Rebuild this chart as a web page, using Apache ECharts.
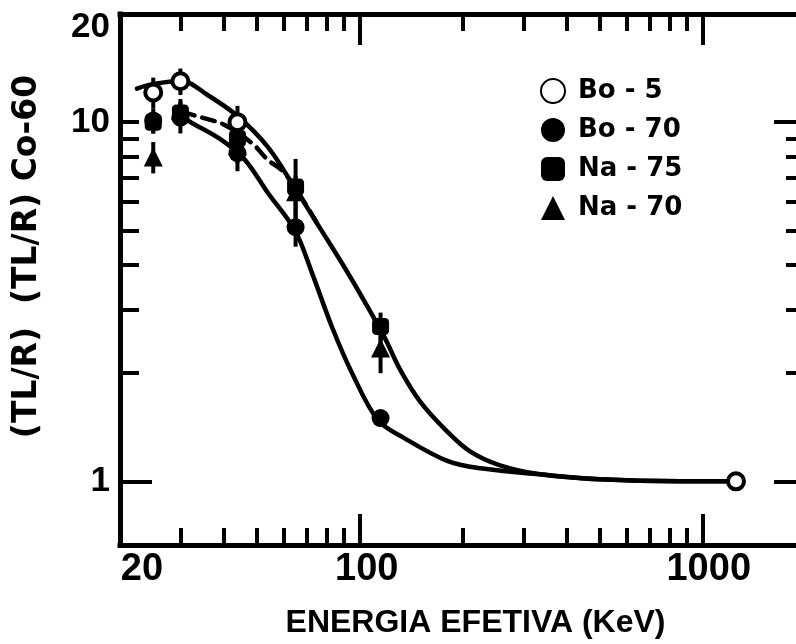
<!DOCTYPE html>
<html><head><meta charset="utf-8">
<script src="https://cdn.jsdelivr.net/npm/echarts@6/dist/echarts.min.js"></script>
<style>html,body{margin:0;padding:0;background:#fff}#c{width:796px;height:644px}</style>
</head><body><div id="c"></div>
<script>
// ---- axis ticks / labels ----
const xTickLabels = [20, 100, 1000];
const xMajorTicks = [100, 1000];
const xMinorTicks = [30, 40, 50, 60, 70, 80, 90, 200, 300, 400, 500, 600, 700, 800, 900];
const yTickLabels = [1, 10, 20];
const yMajorTicksLeft = [1];
const yMinorTicksLeft = [2, 3, 4, 5, 6, 7, 8, 9, 10];
const yMajorTicksRight = [1, 10];
const yMinorTicksRight = [2, 3, 4, 5, 6, 7, 8, 9];

// ---- measured points (energy keV, ratio) ----
const seriesNames = ['Bo-5', 'Bo-70', 'Na-75', 'Na-70'];
const bo5X = [25, 30, 44, 1250];
const bo5Y = [12.1, 13.0, 10.0, 1.0];
const bo5Err = [1.2, 1.1, 1.1, 0];
const bo70X = [25, 30, 44, 65, 115];
const bo70Y = [10.1, 10.3, 8.2, 5.1, 1.5];
const bo70Err = [0.8, 1.0, 0.9, 0.6, 0];
const na75X = [25, 30, 44, 65, 115];
const na75Y = [10.0, 10.6, 9.0, 6.6, 2.7];
const na75Err = [0.7, 0.8, 0.9, 1.3, 0.25];
const na70X = [25, 30, 44, 65, 115];
const na70Y = [8.0, 10.8, 8.6, 6.4, 2.35];
const na70Err = [0.8, 0.8, 0.9, 0.7, 0.35];

// ---- fitted curves ----
const upperX = [22.4, 25.3, 30.3, 36, 44, 54, 64.7, 76.6, 90.6, 103.6, 118.5, 131, 149.8, 179.6, 209.6, 256.4, 335, 500, 860, 1250];
const upperY = [12.4, 12.8, 13.0, 11.9, 10.4, 8.52, 6.55, 5.07, 3.92, 3.15, 2.50, 2.05, 1.67, 1.378, 1.212, 1.108, 1.046, 1.013, 1.0, 1.0];
const lowerX = [30.3, 32.4, 39.7, 46.3, 54, 64.7, 72.6, 83, 95, 113, 133, 180, 225, 335, 500, 860, 1250];
const lowerY = [10.3, 9.95, 8.9, 7.85, 6.35, 5.0, 3.8, 2.69, 2.0, 1.48, 1.33, 1.14, 1.087, 1.046, 1.013, 1.0, 1.0];
const dashX = [30.3, 34.7, 40.5, 48.5, 54, 59.3, 64.7, 76.6];
const dashY = [10.66, 10.3, 9.81, 8.74, 7.84, 7.35, 6.59, 5.07];

const xTitle = 'ENERGIA EFETIVA (KeV)';
const yTitle = '(TL/R)  (TL/R) Co-60';

// ---- build ----
const zip = (a, b) => a.map((v, i) => [v, b[i]]);
const FONT = '"Liberation Sans", Arial, sans-serif';
const FONT2 = '"DejaVu Sans", sans-serif';
const X_MIN = 20, X_MAX = 2000, Y_MIN = 0.665, Y_MAX = 20;

function xAx(pos, ticks, len, showLine, labels) {
  return {
    type: 'log', position: pos, min: X_MIN, max: X_MAX,
    axisLine: { show: showLine, onZero: false, lineStyle: { color: '#000', width: 5, cap: 'square' } },
    axisTick: { show: true, inside: true, length: len, customValues: ticks, lineStyle: { color: '#000', width: 4 } },
    axisLabel: labels ? labels : { show: false },
    splitLine: { show: false }, minorTick: { show: false }
  };
}
function yAx(pos, ticks, len, showLine, labels) {
  return {
    type: 'log', position: pos, min: Y_MIN, max: Y_MAX,
    axisLine: { show: showLine, onZero: false, lineStyle: { color: '#000', width: 5, cap: 'square' } },
    axisTick: { show: true, inside: true, length: len, customValues: ticks, lineStyle: { color: '#000', width: 4 } },
    axisLabel: labels ? labels : { show: false },
    splitLine: { show: false }, minorTick: { show: false }
  };
}
const lab = (size, extra, fam) => Object.assign({ fontFamily: fam || FONT, fontWeight: 'bold', fontSize: size, color: '#000' }, extra || {});

const xLabels = {
  show: true, customValues: xTickLabels, margin: 6,
  formatter: v => '{a' + Math.round(v) + '|' + Math.round(v) + '}',
  rich: {
    a20: lab(38, { padding: [0, 0, 0, 44] }),
    a100: lab(38, { padding: [0, 0, 0, 14] }),
    a1000: lab(38, { padding: [0, 0, 0, 12] })
  }
};
const yLabels = {
  show: true, customValues: yTickLabels, margin: 10,
  formatter: v => '{b' + Math.round(v) + '|' + Math.round(v) + '}',
  rich: {
    b1: lab(35), b10: lab(35), b20: lab(35, { padding: [26, 0, 0, 0] })
  }
};

const xAxes = [
  xAx('bottom', xMajorTicks, 31, true, xLabels),
  xAx('bottom', xMinorTicks, 17, false),
  xAx('top', xMajorTicks, 31, true),
  xAx('top', xMinorTicks, 17, false)
];
xAxes[0].name = xTitle;
xAxes[0].nameLocation = 'middle';
xAxes[0].nameGap = 62;
xAxes[0].nameTextStyle = lab(32, { padding: [0, 0, 0, 25] });

const yAxes = [
  yAx('left', yMajorTicksLeft, 32, true, yLabels),
  yAx('left', yMinorTicksLeft, 19, false),
  yAx('right', yMajorTicksRight, 32, true),
  yAx('right', yMinorTicksRight, 20, false)
];
yAxes[0].name = yTitle;
yAxes[0].nameLocation = 'middle';
yAxes[0].nameGap = 76;
yAxes[0].nameTextStyle = lab(33, { padding: [0, 0, 0, 46] }, FONT2);

const errRows = [];
[[bo5X, bo5Y, bo5Err], [bo70X, bo70Y, bo70Err], [na75X, na75Y, na75Err], [na70X, na70Y, na70Err]]
  .forEach(([xs, ys, es]) => xs.forEach((x, i) => { if (es[i] > 0) errRows.push([x, ys[i] - es[i], ys[i] + es[i]]); }));

const curve = (xs, ys, dashed) => ({
  type: 'line', data: zip(xs, ys), smooth: 0.35, showSymbol: false, symbol: 'none', silent: true,
  lineStyle: { color: '#000', width: 4.5, type: dashed ? [13, 8] : 'solid', cap: 'round' }, z: 2,
  legendHoverLink: false
});
const dot = (name, xs, ys, symbol, size, style, z) => ({
  name, type: 'scatter', data: zip(xs, ys), symbol, symbolSize: size,
  itemStyle: Object.assign({ color: '#000', opacity: 1 }, style || {}), z,
  emphasis: { disabled: true }
});

const option = {
  animation: false,
  backgroundColor: '#fff',
  grid: { left: 120, width: 686, top: 14, bottom: 99, containLabel: false, outerBoundsMode: 'none' },
  xAxis: xAxes,
  yAxis: yAxes,
  legend: {
    data: seriesNames, orient: 'vertical', left: 540, top: 78, padding: 0,
    itemWidth: 24, itemHeight: 24, itemGap: 13, selectedMode: false,
    formatter: n => n.replace('-', ' - '),
    textStyle: { fontFamily: FONT2, fontWeight: 'bold', fontSize: 26, lineHeight: 24, color: '#000', padding: [0, 0, 0, 8] }
  },
  series: [
    curve(upperX, upperY, false),
    curve(lowerX, lowerY, false),
    curve(dashX, dashY, true),
    {
      type: 'custom', data: errRows, silent: true, z: 3,
      encode: { x: 0, y: [1, 2] },
      renderItem: (params, api) => {
        const p1 = api.coord([api.value(0), api.value(1)]);
        const p2 = api.coord([api.value(0), api.value(2)]);
        return { type: 'line', shape: { x1: p1[0], y1: p1[1], x2: p2[0], y2: p2[1] }, style: { stroke: '#000', lineWidth: 4 } };
      }
    },
    dot('Bo-70', bo70X, bo70Y, 'circle', 18, null, 4),
    dot('Na-75', na75X, na75Y, 'roundRect', 17, null, 4),
    dot('Na-70', na70X, na70Y, 'triangle', 19, null, 4),
    dot('Bo-5', bo5X, bo5Y, 'circle', 16, { color: '#fff', borderColor: '#000', borderWidth: 4 }, 5)
  ]
};
const chart = echarts.init(document.getElementById('c'), null, { renderer: 'canvas' });
chart.setOption(option);
</script></body></html>
